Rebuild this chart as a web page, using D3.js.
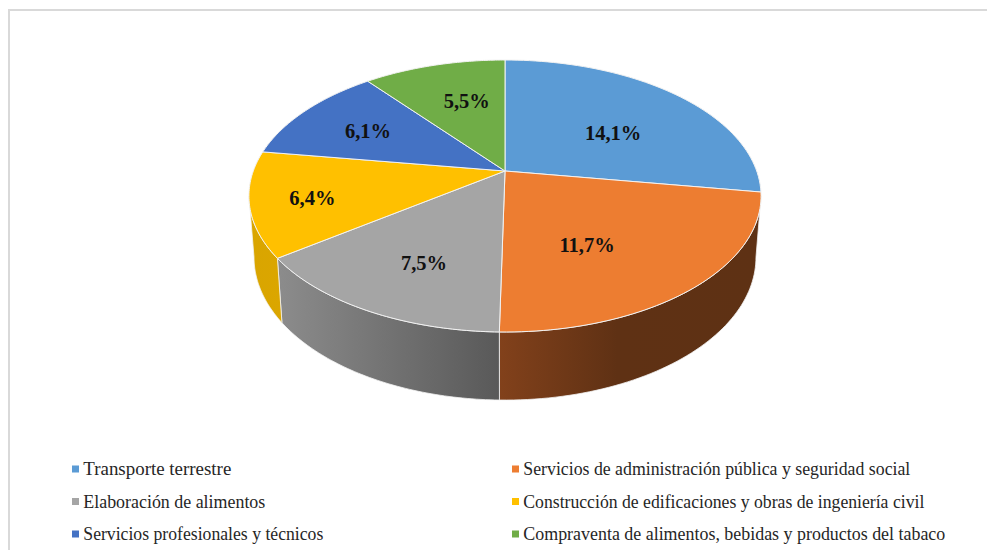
<!DOCTYPE html>
<html><head><meta charset="utf-8">
<script src="https://cdn.jsdelivr.net/npm/d3@7"></script>
<style>html,body{margin:0;padding:0;background:#fff;overflow:hidden}svg{display:block}</style>
</head><body><svg id="c" width="987" height="550"></svg>
<script>
const categories = ["Transporte terrestre","Servicios de administración pública y seguridad social","Elaboración de alimentos","Construcción de edificaciones y obras de ingeniería civil","Servicios profesionales y técnicos","Compraventa de alimentos, bebidas y productos del tabaco"];
const values = [14.1,11.7,7.5,6.4,6.1,5.5];
const colors = ["#5B9BD5","#ED7D31","#A5A5A5","#FFC000","#4472C4","#70AD47"];
const labelNudges = [[1,10],[-24,8],[-4,14],[-42,8],[-13,-3],[7,-3]];
const legendWidths = [148,387,182,401,240,422];

const svg = d3.select("#c");
const FONT = "'Liberation Serif',serif";
const defs = svg.append("defs");
function grad(id, stops){
  const g = defs.append("linearGradient").attr("id",id).attr("x1",0).attr("x2",1).attr("y1",0).attr("y2",0);
  stops.forEach(s=>g.append("stop").attr("offset",s[0]).attr("stop-color",s[1]));
  return `url(#${id})`;
}
const wallFill = [
  null,
  grad("gO",[[0,"#82411b"],[0.45,"#5f3114"],[1,"#5e3114"]]),
  grad("gG",[[0,"#8c8c8c"],[1,"#595959"]]),
  grad("gY",[[0,"#d9a500"],[1,"#dba600"]]),
  null,null
];

// frame
svg.append("path").attr("d",d3.line()([[9,550],[9,10],[987,10]])).attr("fill","none").attr("stroke","#d9d9d9").attr("stroke-width",2);

// perspective projection of the pie disc
const cx=505, persp=0.1838;
const topRim = {R:251.7,cy:171,k:131.4};
const botRim = {R:246.7,cy:231,k:138};
function proj(s,phi,r=1){
  const X=r*Math.sin(phi),Y=-r*Math.cos(phi),w=1-persp*Y;
  return [cx+s.R*X/w, s.cy+s.k*Y/w];
}
const arcPts=(s,a,b)=>d3.range(0,61).map(i=>proj(s,a+(b-a)*i/60));
const line=d3.line();

const arcs=d3.pie().sort(null).value(d=>d)(values);
const tan1=Math.PI-Math.acos(persp), tan2=Math.PI+Math.acos(persp);

// side walls
arcs.forEach((d,i)=>{
  const a=Math.max(d.startAngle,tan1), b=Math.min(d.endAngle,tan2);
  if(b<=a||!wallFill[i])return;
  const p=arcPts(topRim,a,b).concat(arcPts(botRim,a,b).reverse());
  svg.append("path").attr("d",line(p)+"Z").attr("fill",wallFill[i]).attr("stroke","#f2f2f2").attr("stroke-width",0.8);
});
// top faces
arcs.forEach((d,i)=>{
  const p=[proj(topRim,0,0)].concat(arcPts(topRim,d.startAngle,d.endAngle));
  svg.append("path").attr("d",line(p)+"Z").attr("fill",colors[i]).attr("stroke","#f2f2f2").attr("stroke-width",1).attr("stroke-linejoin","round");
});
// labels
arcs.forEach((d,i)=>{
  const q=proj(topRim,(d.startAngle+d.endAngle)/2,0.6);
  svg.append("text").attr("x",q[0]+labelNudges[i][0]).attr("y",q[1]+labelNudges[i][1]+7)
    .attr("text-anchor","middle").attr("font-family",FONT).attr("font-weight","bold").attr("font-size",20.5).attr("fill","#111")
    .text(String(values[i]).replace(".",",")+"%");
});
// legend
const colX=d3.scaleOrdinal().domain([0,1]).range([72,512]);
const rowY=d3.scalePoint().domain([0,1,2]).range([469,534]);
categories.forEach((c,i)=>{
  const x=colX(i%2), y=rowY(Math.floor(i/2));
  svg.append("rect").attr("x",x).attr("y",y-3.5).attr("width",7).attr("height",7).attr("fill",colors[i]);
  svg.append("text").attr("x",x+11.3).attr("y",y+6).attr("font-family",FONT).attr("font-size",18).attr("fill","#262626")
    .attr("textLength",legendWidths[i]).attr("lengthAdjust","spacingAndGlyphs").text(c);
});
</script></body></html>
